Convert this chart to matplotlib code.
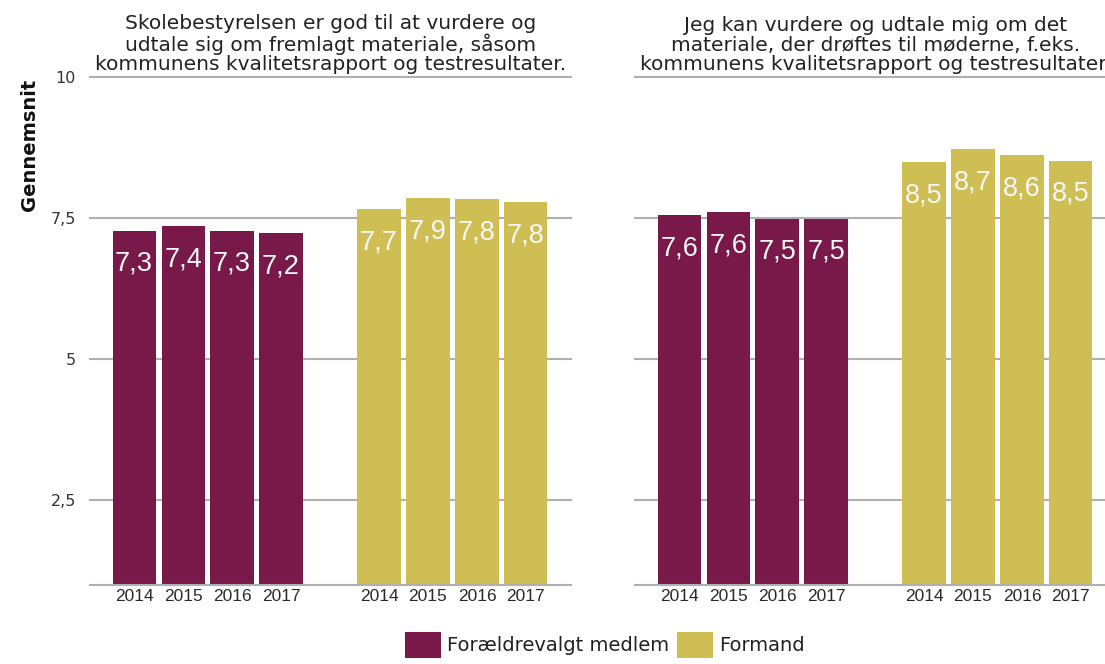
"""Gennemsnit for skolebestyrelses-spørgsmål, to paneler med årlige søjler."""

import matplotlib

matplotlib.use("Agg")
import matplotlib.pyplot as plt
from matplotlib.patches import Patch

# Data
years = ["2014", "2015", "2016", "2017"]
groups = ["Forældrevalgt medlem", "Formand"]
titles = [
    "Skolebestyrelsen er god til at vurdere og\nudtale sig om fremlagt materiale, såsom\n"
    "kommunens kvalitetsrapport og testresultater.",
    "Jeg kan vurdere og udtale mig om det\nmateriale, der drøftes til møderne, f.eks.\n"
    "kommunens kvalitetsrapport og testresultater.",
]
q1_medlem = [7.28, 7.36, 7.28, 7.24]
q1_formand = [7.66, 7.86, 7.84, 7.78]
q2_medlem = [7.56, 7.61, 7.49, 7.49]
q2_formand = [8.49, 8.72, 8.61, 8.52]
yticks = [2.5, 5, 7.5, 10]

colors = ["#79194A", "#CFBE54"]
grid_color = "#b0b0b0"

W, H = 1105, 664
fig = plt.figure(figsize=(W / 100, H / 100), dpi=100)

bottom = (H - 585) / H
height = (585 - 77) / H
ax1 = fig.add_axes([90 / W, bottom, 481 / W, height])
ax2 = fig.add_axes([635 / W, bottom, 481 / W, height])

panels = [(ax1, q1_medlem, q1_formand), (ax2, q2_medlem, q2_formand)]

for i, (ax, medlem, formand) in enumerate(panels):
    xpos = []
    labels = []
    for g, vals in enumerate([medlem, formand]):
        xs = [g * 5 + k for k in range(len(vals))]
        bars = ax.bar(xs, vals, width=0.88, bottom=0, color=colors[g], zorder=3)
        for rect, v in zip(bars, vals):
            ax.annotate(
                f"{v:.1f}".replace(".", ","),
                (rect.get_x() + rect.get_width() / 2, v),
                xytext=(0, -29),
                textcoords="offset points",
                ha="center",
                va="baseline",
                color="#f7f7f7",
                fontsize=19.5,
                family="Liberation Sans",
                zorder=4,
            )
        xpos += xs
        labels += years

    ax.set_ylim(1, 10)
    ax.set_xlim(-0.9, 8.92)
    ax.set_xticks(xpos)
    ax.set_xticklabels(labels, fontsize=12.5, family="Liberation Sans", color="#2a2a2a")
    ax.set_yticks(yticks)
    for y in yticks:
        ax.axhline(y, color=grid_color, lw=1.5, zorder=1, clip_on=False)
    ax.axhline(1, color=grid_color, lw=1.5, zorder=5, clip_on=False)
    for s in ax.spines.values():
        s.set_visible(False)
    ax.tick_params(axis="both", length=0, pad=3)
    ax.tick_params(axis="y", pad=10)
    if i == 0:
        ax.set_yticklabels(["2,5", "5", "7,5", "10"], fontsize=11.5, color="#333333")
    else:
        ax.set_yticklabels([])
    ax.set_title(titles[i], fontsize=14.5, color="#222222", pad=5, linespacing=1.03)

fig.text(30 / W, 1 - 145 / H, "Gennemsnit", rotation=90, ha="center", va="center",
         fontsize=14, fontweight="bold", color="#111111")

handles = [Patch(facecolor=c, edgecolor="none") for c in colors]
fig.legend(
    handles,
    groups,
    loc="center",
    bbox_to_anchor=(605 / W, 1 - 645 / H),
    ncol=2,
    frameon=False,
    fontsize=14,
    handlelength=1.85,
    handleheight=1.65,
    handletextpad=0.3,
    columnspacing=0.4,
    labelcolor="#222222",
)

fig.savefig("out.png", dpi=100)
